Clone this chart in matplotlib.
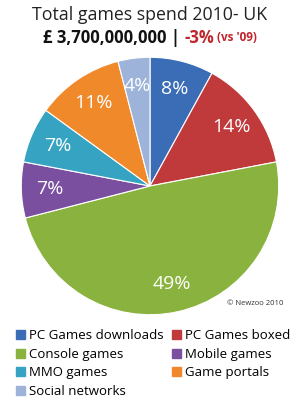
import matplotlib
matplotlib.use("Agg")
import matplotlib.pyplot as plt
from matplotlib.patches import Patch

labels = ["PC Games downloads", "PC Games boxed", "Console games", "Mobile games",
          "MMO games", "Game portals", "Social networks"]
shares = [8, 14, 49, 7, 7, 11, 4]
colors = ["#3a6db5", "#c0393b", "#8ab23e", "#7b4f9f", "#35a3c1", "#f0892a", "#9db3d9"]

plt.rcParams['font.family'] = ['Open Sans', 'DejaVu Sans']

fig = plt.figure(figsize=(3.0, 4.11), dpi=100)
fig.patch.set_facecolor("white")

# title lines
fig.text(0.5, 0.963, "Total games spend 2010- UK", ha="center", va="center",
         fontsize=12.8, color="#222222")

fig.canvas.draw()
r = fig.canvas.get_renderer()
parts = [("£ 3,700,000,000 | ", "#111111", 12), ("-3%", "#c0262b", 12), (" (vs '09)", "#c0262b", 8.5)]
txts = []
for s, c, fs in parts:
    t = fig.text(0, 0.908, s, ha="left", va="center", fontsize=fs, color=c, fontweight="bold")
    txts.append(t)
widths = [t.get_window_extent(r).width for t in txts]
x = (fig.bbox.width - sum(widths)) / 2
for t, w in zip(txts, widths):
    t.set_x(x / fig.bbox.width)
    x += w

ax = fig.add_axes([20/300, 1 - 316/411, 260/300, 260/411])
wedges, _, autotexts = ax.pie(shares, colors=colors, startangle=90, counterclock=False,
                              autopct="%d%%", pctdistance=0.78,
                              wedgeprops=dict(edgecolor="white", linewidth=0.8),
                              textprops=dict(color="white", fontsize=14))
ax.set_xlim(-1.01, 1.01)
ax.set_ylim(-1.01, 1.01)
ax.set_aspect("equal")

fig.text(0.945, 1 - 303/411, "© Newzoo 2010", ha="right", va="center", fontsize=5.5, color="#333333")

order = [0, 2, 4, 6, 1, 3, 5]
handles = [Patch(facecolor=colors[i], edgecolor=colors[i]) for i in order]
fig.legend(handles, [labels[i] for i in order], ncol=2, loc="upper left",
           bbox_to_anchor=(0.035, 1 - 324/411), frameon=False, fontsize=9.5,
           handlelength=0.7, handleheight=0.7, handletextpad=0.3,
           columnspacing=0.6, labelspacing=0.42, borderaxespad=0)

fig.savefig("out.png", dpi=100)
